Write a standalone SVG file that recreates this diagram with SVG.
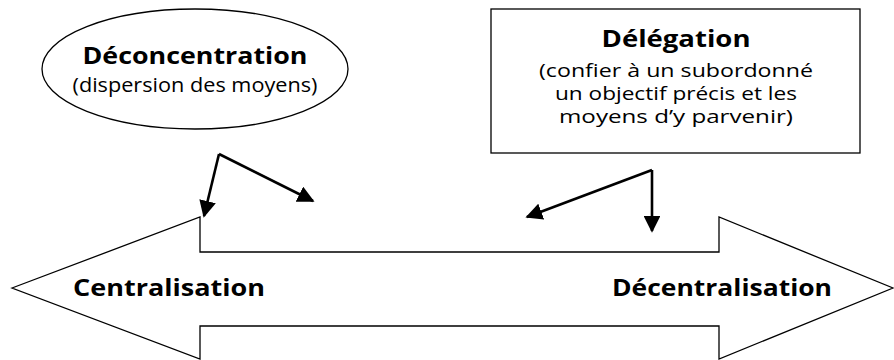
<svg xmlns="http://www.w3.org/2000/svg" width="894" height="360" viewBox="0 0 894 360">
<style>
.shape{fill:#fff;stroke:#000;stroke-width:1.3}
.t{font-family:"Open Sans","Liberation Sans",sans-serif;fill:#000;text-anchor:middle}
.b{font-weight:bold;font-size:23px}
.s{font-size:20px}
.s2{font-size:18px}
.con{stroke:#000;stroke-width:2.6;fill:none;marker-end:url(#ah)}
</style>
<defs>
<marker id="ah" viewBox="0 0 10 10" refX="9" refY="5" markerWidth="6.5" markerHeight="6.5" markerUnits="strokeWidth" orient="auto">
<path d="M0,0 L10,5 L0,10 z" fill="#000"/>
</marker>
</defs>
<g id="axis">
<path class="shape" d="M12,288 L200,217 L200,252 L719,252 L719,217 L893,288 L719,359 L719,326 L200,326 L200,359 Z"/>
<text class="t b" x="169" y="296" textLength="192" lengthAdjust="spacingAndGlyphs">Centralisation</text>
<text class="t b" x="722" y="296" textLength="220" lengthAdjust="spacingAndGlyphs">Décentralisation</text>
</g>
<g id="deconcentration">
<ellipse class="shape" cx="195" cy="69" rx="153" ry="60"/>
<text class="t b" x="195" y="64" textLength="225" lengthAdjust="spacingAndGlyphs">Déconcentration</text>
<text class="t s" x="195" y="92" textLength="245" lengthAdjust="spacingAndGlyphs">(dispersion des moyens)</text>
</g>
<g id="delegation">
<rect class="shape" x="491" y="9" width="369" height="144"/>
<text class="t b" x="676" y="47" textLength="149" lengthAdjust="spacingAndGlyphs">Délégation</text>
<text class="t s2" x="676" y="77" textLength="274" lengthAdjust="spacingAndGlyphs">(confier à un subordonné</text>
<text class="t s2" x="676" y="100" textLength="242" lengthAdjust="spacingAndGlyphs">un objectif précis et les</text>
<text class="t s2" x="676" y="123" textLength="234" lengthAdjust="spacingAndGlyphs">moyens d’y parvenir)</text>
</g>
<g id="connectors">
<path class="con" d="M219,154 L204,216"/>
<path class="con" d="M219,154 L313,201"/>
<path class="con" d="M652,170 L527,217"/>
<path class="con" d="M652,170 L652,231"/>
</g>
</svg>
